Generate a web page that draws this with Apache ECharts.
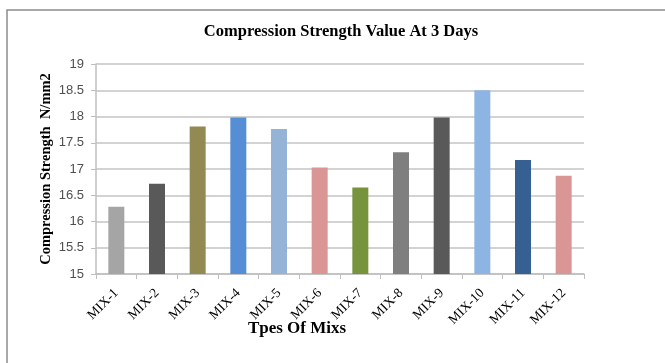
<!DOCTYPE html>
<html>
<head>
<meta charset="utf-8">
<script src="https://cdn.jsdelivr.net/npm/echarts@6/dist/echarts.min.js"></script>
<style>
  html, body { margin: 0; padding: 0; background: #fff; }
  #chart { width: 665px; height: 363px; }
</style>
</head>
<body>
<div id="chart"></div>
<script>
// Mix designs and their 3-day compressive strength (N/mm2)
const mixes = ['MIX-1', 'MIX-2', 'MIX-3', 'MIX-4', 'MIX-5', 'MIX-6',
               'MIX-7', 'MIX-8', 'MIX-9', 'MIX-10', 'MIX-11', 'MIX-12'];
const strength = [16.28, 16.72, 17.81, 17.98, 17.76, 17.03,
                  16.65, 17.32, 17.98, 18.5, 17.17, 16.87];
const barColors = ['#a5a5a5', '#595959', '#938953', '#558ed5', '#95b3d7', '#d99694',
                   '#77933c', '#7f7f7f', '#595959', '#8eb4e3', '#366092', '#d99694'];
const yTicks = [15, 15.5, 16, 16.5, 17, 17.5, 18, 18.5, 19];

const serif = '"Liberation Serif", "Times New Roman", serif';
const sans = '"Liberation Sans", Arial, sans-serif';

const chart = echarts.init(document.getElementById('chart'), null, { renderer: 'canvas' });

chart.setOption({
  animation: false,
  backgroundColor: '#ffffff',
  graphic: [{
    type: 'rect',
    shape: { x: 7, y: 10, width: 700, height: 400 },
    style: { fill: 'none', stroke: '#8c8c8c', lineWidth: 1.5 },
    silent: true
  }],
  title: {
    text: 'Compression Strength Value At 3 Days',
    left: 336,
    top: 18,
    textAlign: 'center',
    textStyle: { fontFamily: serif, fontWeight: 'bold', fontSize: 16.5, color: '#000' }
  },
  grid: { left: 96, right: 81, top: 64, bottom: 89 },
  xAxis: {
    type: 'category',
    data: mixes,
    name: 'Tpes Of Mixs',
    nameLocation: 'middle',
    nameGap: 46,
    nameMoveOverlap: false,
    nameTextStyle: { fontFamily: serif, fontWeight: 'bold', fontSize: 17, color: '#000',
                     padding: [0, 86, 0, 0] },
    axisLine: { lineStyle: { color: '#bfbfbf', width: 1.5 } },
    axisTick: { show: true, alignWithLabel: false, length: 5, lineStyle: { color: '#bfbfbf' } },
    axisLabel: { rotate: 45, margin: 17, fontFamily: serif, fontSize: 13.5, color: '#000', interval: 0 }
  },
  yAxis: {
    type: 'value',
    min: yTicks[0],
    max: yTicks[yTicks.length - 1],
    interval: 0.5,
    name: 'Compression Strength  N/mm2',
    nameLocation: 'middle',
    nameGap: 42,
    nameMoveOverlap: false,
    nameTextStyle: { fontFamily: serif, fontWeight: 'bold', fontSize: 14.5, color: '#000' },
    axisLine: { show: true, lineStyle: { color: '#bfbfbf', width: 1.5 } },
    axisTick: { show: true, length: 5, lineStyle: { color: '#bfbfbf' } },
    axisLabel: { margin: 12, fontFamily: sans, fontSize: 13, color: '#505050' },
    splitLine: { lineStyle: { color: '#c4c4c4', width: 1.5 } }
  },
  series: [{
    type: 'bar',
    data: strength.map((v, i) => ({ value: v, itemStyle: { color: barColors[i] } })),
    barWidth: 16
  }]
});
</script>
</body>
</html>
